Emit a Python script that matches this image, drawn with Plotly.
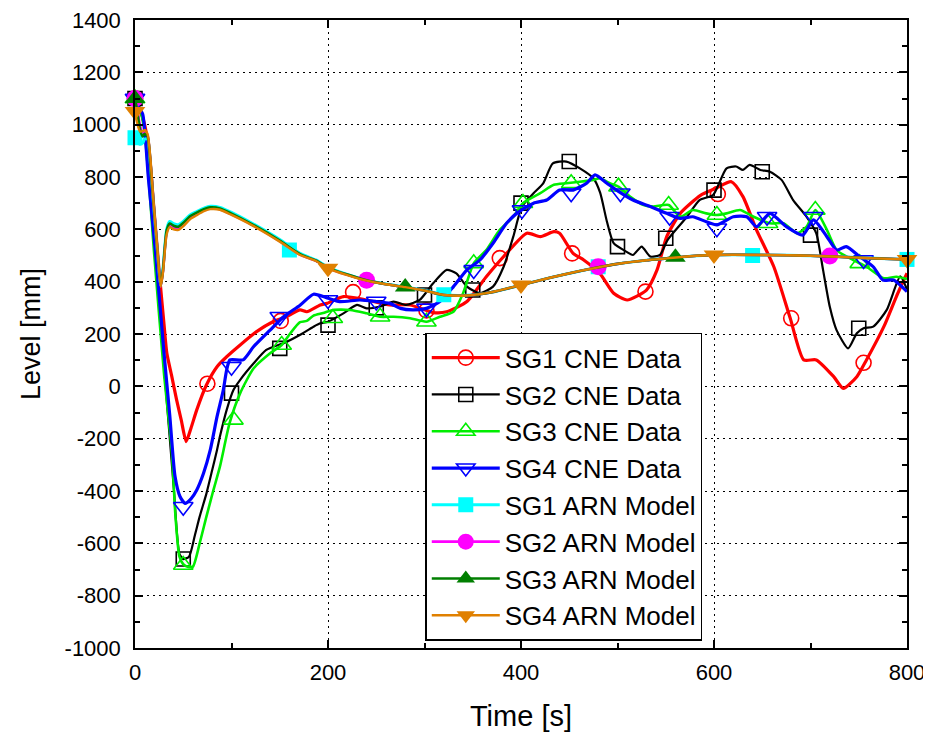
import plotly.graph_objects as go

# ---------------- data ----------------
SG1_CNE_T = [0, 5, 10, 15, 20, 25, 30, 33, 38, 43, 48, 53, 58, 64, 74, 85, 95, 109, 126, 143, 157, 171,
             178, 192, 199, 216, 240, 264, 285, 309, 323, 344, 364, 385, 406, 420, 434, 440, 454, 465,
             482, 496, 510, 530, 541, 551, 565, 586, 601, 618, 630, 644, 662, 679, 693, 706, 724, 734,
             748, 758, 776, 789, 800]
SG1_CNE_Y = [1100, 1060, 1000, 880, 660, 440, 240, 126, 40, -50, -130, -211, -160, -90, 5, 75, 113, 158,
             209, 247, 266, 292, 285, 311, 317, 343, 330, 311, 311, 282, 285, 324, 419, 508, 585, 572,
             591, 585, 508, 483, 430, 356, 330, 368, 445, 572, 661, 730, 755, 782, 725, 598, 457, 260,
             101, 101, 37, -8, 37, 101, 228, 343, 432]
SG1_CNE_MT = [0, 75, 151, 226, 302, 378, 453, 529, 604, 680, 755]
SG1_CNE_MY = [1100, 10, 250, 360, 290, 490, 508, 362, 735, 260, 90]

SG2_CNE_T = [0, 5, 10, 20, 30, 40, 46, 50, 56, 62, 67, 74, 80, 85, 88, 95, 102, 109, 123, 136, 150, 154,
             174, 185, 192, 200, 216, 230, 240, 254, 268, 281, 295, 309, 323, 333, 344, 357, 371, 382,
             392, 401, 413, 423, 433, 447, 461, 475, 482, 489, 496, 509, 516, 525, 534, 544, 552, 572,
             585, 599, 613, 623, 630, 637, 648, 658, 670, 682, 696, 706, 713, 720, 727, 739, 748, 755,
             765, 779, 793, 800]
SG2_CNE_Y = [1100, 1060, 980, 530, 80, -380, -640, -660, -651, -570, -498, -410, -320, -243, -192, -90,
             -14, 25, 88, 139, 160, 165, 203, 228, 241, 247, 279, 311, 298, 305, 324, 311, 330, 394, 445,
             432, 381, 356, 381, 457, 572, 687, 738, 776, 852, 859, 833, 795, 740, 630, 547, 515, 502,
             534, 496, 502, 560, 648, 712, 731, 833, 840, 827, 846, 827, 820, 789, 712, 648, 585, 445,
             304, 215, 145, 203, 222, 228, 292, 420, 370]
SG2_CNE_MT = [0, 50, 100, 150, 200, 250, 300, 350, 400, 450, 500, 550, 600, 650, 700, 750]
SG2_CNE_MY = [1100, -660, -26, 145, 234, 300, 349, 368, 700, 859, 534, 566, 750, 820, 578, 222]

SG3_CNE_T = [0, 5, 10, 20, 30, 38, 42, 46, 50, 55, 60, 67, 74, 81, 88, 98, 109, 123, 140, 152, 161, 171,
             178, 185, 195, 205, 223, 240, 254, 268, 285, 302, 316, 330, 340, 351, 364, 378, 392, 402,
             420, 434, 447, 461, 475, 482, 492, 501, 513, 527, 537, 553, 565, 578, 592, 603, 613, 627,
             641, 658, 672, 686, 696, 705, 717, 727, 744, 758, 776, 789, 800]
SG3_CNE_Y = [1100, 1060, 970, 500, 50, -243, -500, -650, -680, -690, -689, -600, -498, -400, -307, -141,
             -26, 69, 126, 158, 203, 245, 250, 270, 280, 292, 292, 279, 266, 266, 260, 247, 266, 285, 356,
             470, 521, 598, 648, 700, 738, 770, 776, 782, 789, 795, 776, 763, 725, 693, 687, 693, 648,
             674, 661, 655, 661, 674, 648, 623, 623, 585, 610, 674, 598, 521, 483, 457, 413, 419, 410]
SG3_CNE_MT = [0, 50, 102, 152, 205, 254, 302, 351, 402, 452, 501, 553, 603, 656, 705, 751]
SG3_CNE_MY = [1100, -683, -128, 158, 260, 266, 247, 470, 700, 776, 763, 693, 655, 623, 674, 470]

SG4_CNE_T = [0, 4, 8, 14, 21, 30, 36, 41.5, 46.6, 51.8, 58, 64, 71, 78, 85, 91.5, 95, 98.4, 112, 123, 140,
             154, 171, 185, 199, 212, 233, 250, 264, 275, 288, 302, 316, 330, 344, 357.5, 371, 385,
             395.5, 413, 426.6, 440, 454, 468, 476.7, 489, 499, 516, 534, 551, 565, 578, 592, 603, 620,
             634, 644, 658, 675, 692, 703, 717, 727, 737, 751, 765, 775, 786, 800]
SG4_CNE_Y = [1100, 1065, 1040, 790, 521, 130, -110, -345, -421, -447, -430, -396, -332, -243, -116, -14,
             63, 101, 101, 152, 215, 266, 310, 352, 338, 324, 330, 324, 317, 298, 292, 298, 324, 381, 445,
             483, 547, 623, 661, 700, 712, 750, 750, 776, 808, 776, 750, 712, 687, 661, 642, 648, 629,
             617, 648, 648, 610, 661, 610, 578, 636, 572, 521, 534, 496, 457, 406, 406, 362]
SG4_CNE_MT = [0, 50, 100, 150, 200, 250, 302, 351, 401, 452, 503, 554, 603, 655, 703, 755]
SG4_CNE_MY = [1100, -460, 75, 266, 330, 324, 298, 445, 674, 738, 738, 648, 604, 648, 648, 483]

ARN_T = [0, 2, 5, 8, 10, 13, 16, 19, 23, 26.6, 29, 32.8, 36, 40, 45, 50, 57, 64, 72, 78, 88, 100, 120,
         150, 171, 188, 200, 220, 240, 260, 280, 300, 320, 344, 370, 400, 430, 460, 475, 500, 530, 551,
         575, 599, 655, 700, 723, 760, 800]
SG1_ARN_Y = [950, 935, 925, 930, 945, 945, 850, 705, 525, 385, 450, 600, 630, 622, 618, 630, 655, 668,
             682, 688, 684, 665, 626, 561, 508, 482, 455, 428, 406, 391, 380, 367, 350, 348, 360, 387,
             415, 440, 451, 468, 482, 489, 497, 502, 502, 499, 496, 490, 485]
SG2_ARN_Y = [1100, 1070, 1000, 970, 975, 960, 860, 712, 530, 381, 440, 588, 614, 606, 602, 618, 643, 658,
             674, 680, 677, 657, 620, 555, 503, 479, 452, 426, 405, 390, 379, 366, 349, 347, 360, 387,
             415, 440, 451, 468, 482, 489, 497, 502, 502, 499, 496, 490, 485]
SG3_ARN_Y = [1100, 1060, 985, 955, 965, 955, 855, 708, 528, 383, 445, 595, 622, 614, 610, 624, 650, 664,
             678, 684, 680, 660, 622, 557, 505, 480, 453, 427, 405, 390, 379, 366, 349, 347, 360, 387,
             415, 440, 451, 468, 482, 489, 497, 502, 502, 499, 496, 490, 485]
SG4_ARN_Y = [1050, 1010, 975, 975, 980, 965, 870, 715, 535, 381, 435, 580, 608, 600, 598, 612, 638, 654,
             670, 677, 675, 655, 618, 553, 502, 478, 451, 425, 404, 390, 379, 366, 349, 347, 360, 387,
             415, 440, 451, 468, 482, 489, 497, 502, 502, 499, 496, 490, 485]
SG1_ARN_MT = [0, 160, 320, 480, 640, 800]
SG1_ARN_MY = [950, 521, 350, 457, 500, 485]
SG2_ARN_MT = [0, 240, 480, 720]
SG2_ARN_MY = [1100, 405, 457, 498]
SG3_ARN_MT = [0, 280, 560]
SG3_ARN_MY = [1100, 380, 493]
SG4_ARN_MT = [0, 200, 400, 600, 800]
SG4_ARN_MY = [1050, 451, 387, 502, 485]

NAMES = ["SG1 CNE Data", "SG2 CNE Data", "SG3 CNE Data", "SG4 CNE Data",
         "SG1 ARN Model", "SG2 ARN Model", "SG3 ARN Model", "SG4 ARN Model"]

X_TICKS = [0, 200, 400, 600, 800]
Y_TICKS = [-1000, -800, -600, -400, -200, 0, 200, 400, 600, 800, 1000, 1200, 1400]

# ---------------- styling ----------------
series = [
    (SG1_CNE_T, SG1_CNE_Y, SG1_CNE_MT, SG1_CNE_MY, "#ff0000", 3.2, "circle-open", 15),
    (SG2_CNE_T, SG2_CNE_Y, SG2_CNE_MT, SG2_CNE_MY, "#000000", 2.2, "square-open", 14),
    (SG3_CNE_T, SG3_CNE_Y, SG3_CNE_MT, SG3_CNE_MY, "#00ee00", 2.6, "triangle-up-open", 17),
    (SG4_CNE_T, SG4_CNE_Y, SG4_CNE_MT, SG4_CNE_MY, "#0000ff", 3.2, "triangle-down-open", 17),
    (ARN_T, SG1_ARN_Y, SG1_ARN_MT, SG1_ARN_MY, "#00ffff", 3.0, "square", 15),
    (ARN_T, SG2_ARN_Y, SG2_ARN_MT, SG2_ARN_MY, "#ff00ff", 2.6, "circle", 17),
    (ARN_T, SG3_ARN_Y, SG3_ARN_MT, SG3_ARN_MY, "#007f00", 2.6, "triangle-up", 18),
    (ARN_T, SG4_ARN_Y, SG4_ARN_MT, SG4_ARN_MY, "#e08000", 2.4, "triangle-down", 18),
]

fig = go.Figure()
for i, (t, y, mt, my, col, lw, sym, ms) in enumerate(series):
    mline = dict(color=col, width=1.6) if sym.endswith("open") else dict(width=0)
    fig.add_trace(go.Scatter(x=t, y=y, mode="lines", line=dict(color=col, width=lw, shape="spline", smoothing=0.6),
                             showlegend=False, legendgroup=str(i), hoverinfo="skip"))
    fig.add_trace(go.Scatter(x=mt, y=my, mode="markers",
                             marker=dict(symbol=sym, size=ms, color=col, line=mline),
                             showlegend=False, legendgroup=str(i), cliponaxis=False))
    fig.add_trace(go.Scatter(x=[None], y=[None], mode="lines+markers", name=NAMES[i],
                             line=dict(color=col, width=lw),
                             marker=dict(symbol=sym, size=ms, color=col, line=mline),
                             legendgroup=str(i)))

FONT = "Liberation Sans, Arial, sans-serif"
common = dict(showline=True, linecolor="black", linewidth=1.5, mirror="ticks",
              ticks="inside", ticklen=8, tickwidth=1.5, tickcolor="black",
              showgrid=True, gridcolor="black", gridwidth=1, griddash="2px,4px",
              zeroline=False, automargin=False, ticklabeloverflow="allow",
              tickfont=dict(family=FONT, size=22, color="black"))

fig.update_layout(
    width=931, height=740,
    margin=dict(l=127, r=32, t=12, b=100),
    paper_bgcolor="white", plot_bgcolor="white",
    font=dict(family=FONT, color="black"),
    xaxis=dict(range=[0, 800], tickvals=X_TICKS, ticktext=[str(v) for v in X_TICKS],
               minor=dict(dtick=100, tick0=0, ticks="inside", ticklen=5, tickcolor="black", showgrid=False),
               ticklabelstandoff=4,
               title=dict(text="Time [s]", font=dict(size=29), standoff=22), **common),
    yaxis=dict(range=[-1000, 1400], tickvals=Y_TICKS, ticktext=[str(v) for v in Y_TICKS],
               minor=dict(dtick=100, tick0=0, ticks="inside", ticklen=5, tickcolor="black", showgrid=False),
               ticklabelstandoff=8,
               title=dict(text="Level [mm]", font=dict(size=27), standoff=16), **common),
    legend=dict(x=0.376, y=0.502, xanchor="left", yanchor="top",
                bgcolor="white", bordercolor="black", borderwidth=1.5,
                font=dict(size=26, family=FONT),
                itemwidth=68,
                tracegroupgap=0, itemsizing="trace"),
    showlegend=True,
)

fig.write_html("out.html")
